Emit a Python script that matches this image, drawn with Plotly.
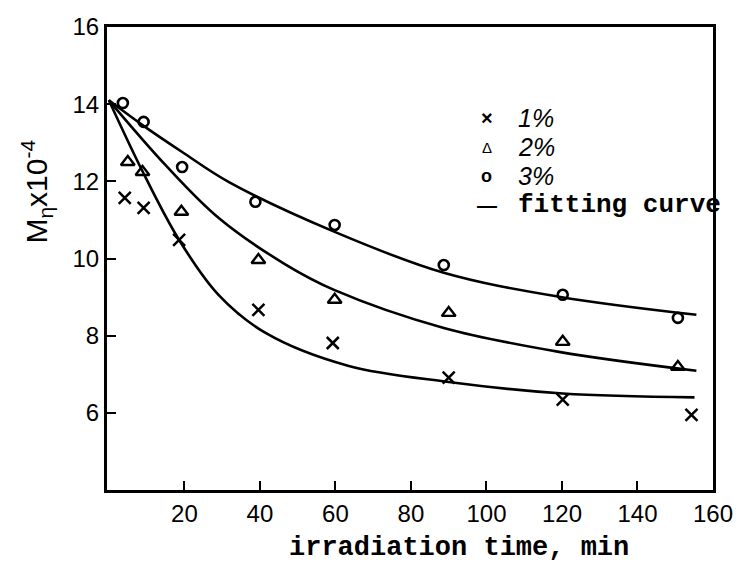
import plotly.graph_objects as go

# ---- measured data (irradiation time, min ; Mn x 10^-4) ----
time_1 = [4.2, 9.2, 18.6, 39.6, 59.3, 90.0, 120.2, 154.3]
mn_1 = [11.57, 11.31, 10.48, 8.67, 7.81, 6.91, 6.34, 5.95]

time_2 = [5.0, 8.9, 19.2, 39.6, 59.8, 90.0, 120.2, 150.7]
mn_2 = [12.50, 12.24, 11.21, 9.96, 8.93, 8.59, 7.84, 7.19]

time_3 = [3.7, 9.2, 19.4, 38.8, 59.8, 88.7, 120.2, 150.7]
mn_3 = [14.03, 13.54, 12.37, 11.47, 10.87, 9.83, 9.06, 8.46]

# fitting curves
fit1_x = [0, 8.7, 18.6, 29.1, 41.5, 63.3, 90.0, 120.2, 155.1]
fit1_y = [14.1, 12.30, 10.48, 9.05, 8.07, 7.22, 6.80, 6.50, 6.40]

fit2_x = [0, 15.2, 29.1, 46.7, 59.8, 88.7, 119.2, 155.6]
fit2_y = [14.1, 12.40, 11.05, 9.85, 9.18, 8.20, 7.58, 7.09]

fit3_x = [0, 9.0, 19.4, 31.8, 59.8, 88.7, 119.2, 155.6]
fit3_y = [14.1, 13.45, 12.76, 11.98, 10.69, 9.63, 9.01, 8.54]

x_ticks = [20, 40, 60, 80, 100, 120, 140, 160]
y_ticks = [6, 8, 10, 12, 14, 16]

legend_labels = ["1%", "2%", "3%", "fitting curve"]

fig = go.Figure()

for fx, fy in [(fit1_x, fit1_y), (fit2_x, fit2_y), (fit3_x, fit3_y)]:
    fig.add_trace(go.Scatter(x=fx, y=fy, mode="lines",
                             line=dict(color="black", width=2.6, shape="spline", smoothing=1.0),
                             showlegend=False, hoverinfo="skip"))

fig.add_trace(go.Scatter(x=time_1, y=mn_1, mode="markers", showlegend=False,
                         marker=dict(symbol="x-thin", size=12, color="black",
                                     line=dict(width=2.5, color="black"))))
fig.add_trace(go.Scatter(x=time_2, y=mn_2, mode="markers", showlegend=False,
                         marker=dict(symbol="triangle-up-open", size=12, color="black",
                                     line=dict(width=2.4, color="black"))))
fig.add_trace(go.Scatter(x=time_3, y=mn_3, mode="markers", showlegend=False,
                         marker=dict(symbol="circle-open", size=10, color="black",
                                     line=dict(width=2.6, color="black"))))

L, R, T, B = 107, 27, 27, 74
W, H = 745, 564
pw, ph = W - L - R, H - T - B


def px(xp):
    return (xp - L) / pw


def py(yp):
    return (H - B - yp) / ph


annotations = []
# legend (hand-drawn style)
sym = ["<b>×</b>", "Δ", "<b>o</b>", "<b>—</b>"]
sym_size = [20, 15, 18, 20]
rows = [118, 147, 176, 205]
for i, (s, lab, yrow) in enumerate(zip(sym, legend_labels, rows)):
    annotations.append(dict(x=px(490), y=py(yrow), xref="paper", yref="paper", text=s,
                            showarrow=False, xanchor="center", yanchor="middle",
                            font=dict(family="Liberation Sans", size=sym_size[i], color="black")))
    if i < 3:
        annotations.append(dict(x=px(519), y=py(yrow), xref="paper", yref="paper",
                                text="<i>" + lab + "</i>", showarrow=False,
                                xanchor="left", yanchor="middle",
                                font=dict(family="Liberation Sans", size=25, color="black")))
    else:
        annotations.append(dict(x=px(519), y=py(yrow), xref="paper", yref="paper",
                                text="<b>" + lab + "</b>", showarrow=False, xanchor="left",
                                yanchor="middle",
                                font=dict(family="Liberation Mono", size=26, color="black")))

# axis titles
annotations.append(dict(x=px(462), y=py(548), xref="paper", yref="paper",
                        text="<b>irradiation time, min</b>", showarrow=False,
                        xanchor="center", yanchor="middle",
                        font=dict(family="Liberation Mono", size=27, color="black")))
annotations.append(dict(x=px(36), y=py(192), xref="paper", yref="paper",
                        text="M<sub>η</sub>x10<sup>-4</sup>", showarrow=False, textangle=-90,
                        xanchor="center", yanchor="middle",
                        font=dict(family="Liberation Sans", size=30, color="black")))

fig.update_layout(
    width=W, height=H,
    margin=dict(l=L, r=R, t=T, b=B),
    paper_bgcolor="white", plot_bgcolor="white",
    showlegend=False,
    annotations=annotations,
)
fig.update_xaxes(range=[-0.5, 160], tickvals=x_ticks, ticktext=[str(v) for v in x_ticks],
                 ticks="inside", ticklen=9, tickwidth=2, tickcolor="black",
                 showline=True, linewidth=3, linecolor="black", mirror=True,
                 showgrid=False, zeroline=False,
                 tickfont=dict(family="Liberation Sans", size=24, color="black"))
fig.update_yaxes(range=[4, 16], tickvals=y_ticks, ticktext=[str(v) for v in y_ticks],
                 ticks="inside", ticklen=9, tickwidth=2, tickcolor="black",
                 showline=True, linewidth=3, linecolor="black", mirror=True,
                 showgrid=False, zeroline=False,
                 tickfont=dict(family="Liberation Sans", size=24, color="black"))

fig.write_html("out.html")
